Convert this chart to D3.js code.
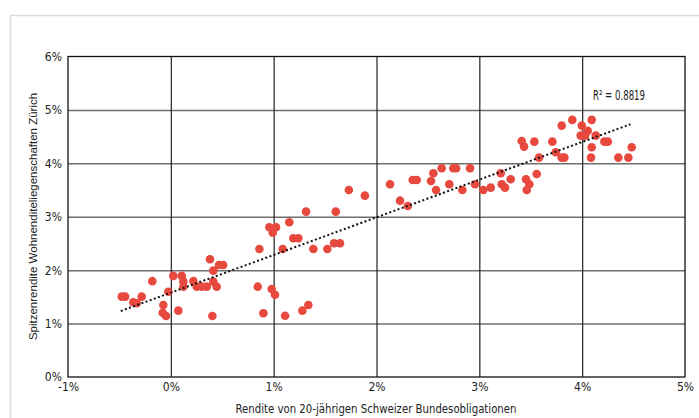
<!DOCTYPE html>
<html><head><meta charset="utf-8">
<script src="https://cdn.jsdelivr.net/npm/d3@7/dist/d3.min.js"></script>
<style>
body{margin:0;background:#fff;}
.cond{font-family:"Liberation Sans Narrow","DejaVu Sans Condensed","Roboto Condensed",sans-serif;font-stretch:condensed;}
</style></head>
<body><svg id="c" width="699" height="418"></svg>
<script>
// Rendite 20-jährige Bundesobligationen (%) und Spitzenrendite (%)
const bondYield = [0.381,0.469,0.508,0.413,-0.180,0.024,0.106,0.122,0.122,0.219,0.252,0.300,0.349,0.413,0.446,-0.024,-0.477,-0.445,-0.283,-0.365,-0.332,-0.073,-0.079,-0.047,0.073,0.404,
1.731,1.887,1.315,1.604,0.958,1.023,0.991,1.152,1.191,1.240,0.861,1.088,1.386,1.522,1.587,1.645,0.845,0.981,1.013,0.900,1.111,1.279,1.337,
2.132,2.229,2.304,2.352,2.391,2.530,2.553,2.634,2.747,2.774,2.910,2.579,2.708,2.835,2.958,3.039,3.111,3.208,3.218,3.250,3.305,3.454,3.461,3.412,3.435,
3.904,4.093,3.801,3.996,4.054,3.986,4.028,4.132,3.535,3.710,4.216,4.249,4.093,4.482,3.743,3.581,3.801,3.827,4.086,4.352,4.449,3.558,3.486];
const primeYield = [2.204,2.097,2.097,1.991,1.794,1.893,1.893,1.785,1.691,1.798,1.691,1.691,1.691,1.785,1.691,1.597,1.504,1.504,1.504,1.399,1.380,1.348,1.204,1.142,1.242,1.142,
3.502,3.395,3.096,3.096,2.803,2.803,2.702,2.897,2.597,2.597,2.397,2.397,2.397,2.397,2.504,2.504,1.691,1.648,1.541,1.193,1.148,1.242,1.348,
3.609,3.301,3.202,3.689,3.689,3.670,3.815,3.908,3.908,3.908,3.908,3.502,3.609,3.502,3.609,3.502,3.545,3.815,3.609,3.545,3.702,3.702,3.502,4.419,4.313,
4.813,4.813,4.706,4.706,4.607,4.519,4.519,4.519,4.406,4.406,4.406,4.406,4.301,4.301,4.208,4.107,4.107,4.107,4.107,4.107,4.107,3.801,3.609];
const xTicks = [-1,0,1,2,3,4,5];
const yTicks = [0,1,2,3,4,5,6];
const trendSlope = 0.7053, trendIntercept = 1.579, trendRange = [-0.487, 4.47];
const rSquared = "0.8819";

const svg = d3.select("#c");
const x = d3.scaleLinear().domain([-1,5]).range([68,685]);
const y = d3.scaleLinear().domain([0,6]).range([377,56.5]);

// outer frame
svg.append("rect").attr("x",10.5).attr("y",15.5).attr("width",720).attr("height",440)
  .attr("fill","none").attr("stroke","#dcdcdc").attr("stroke-width",1.5);

// horizontal grid
const gy = svg.append("g").attr("transform","translate(68,0)")
  .call(d3.axisLeft(y).tickValues(yTicks.slice(1,6)).tickSize(-(685-68)).tickFormat(""));
gy.select(".domain").remove();
gy.selectAll("line").attr("stroke","#6e6e6e").attr("stroke-width",1.5);
// vertical grid
const gx = svg.append("g").attr("transform","translate(0,377)")
  .call(d3.axisBottom(x).tickValues(xTicks.slice(1,6)).tickSize(-(377-56.5)).tickFormat(""));
gx.select(".domain").remove();
gx.selectAll("line").attr("stroke","#222").attr("stroke-width",1.2);

// plot border
svg.append("rect").attr("x",68).attr("y",56.5).attr("width",685-68).attr("height",377-56.5)
  .attr("fill","none").attr("stroke","#111").attr("stroke-width",1.3);

// tick labels
const yl = svg.append("g").attr("transform","translate(68,0)")
  .call(d3.axisLeft(y).tickValues(yTicks).tickSize(0).tickPadding(6).tickFormat(d=>d+"%"));
yl.select(".domain").remove();
yl.selectAll("text").attr("class","cond").attr("font-size",12).attr("fill","#222");
const xl = svg.append("g").attr("transform","translate(0,377)")
  .call(d3.axisBottom(x).tickValues(xTicks).tickSize(0).tickPadding(5).tickFormat(d=>d+"%"));
xl.select(".domain").remove();
xl.selectAll("text").attr("class","cond").attr("font-size",12).attr("fill","#222");

// points
const pts = bondYield.map((v,i)=>({x:v,y:primeYield[i]}));
svg.append("g").selectAll("circle").data(pts).join("circle")
  .attr("cx",d=>x(d.x)).attr("cy",d=>y(d.y)).attr("r",4.3).attr("fill","#e8493f");

// trend line
svg.append("line")
  .attr("x1",x(trendRange[0])).attr("y1",y(trendIntercept+trendSlope*trendRange[0]))
  .attr("x2",x(trendRange[1])).attr("y2",y(trendIntercept+trendSlope*trendRange[1]))
  .attr("stroke","#111").attr("stroke-width",2).attr("stroke-dasharray","2,2.4");

// R² label
svg.append("text").attr("class","cond").attr("x",593).attr("y",100).attr("font-size",13.5).attr("fill","#222")
  .attr("textLength",52).attr("lengthAdjust","spacingAndGlyphs")
  .text("R\u00B2 = " + rSquared);

// axis titles
svg.append("text").attr("class","cond").attr("x",376).attr("y",413).attr("text-anchor","middle")
  .attr("font-size",13).attr("fill","#222").attr("textLength",281).attr("lengthAdjust","spacingAndGlyphs")
  .text("Rendite von 20-jährigen Schweizer Bundesobligationen");
svg.append("text").attr("transform","translate(37,216.5) rotate(-90)").attr("text-anchor","middle")
  .attr("font-family","Liberation Sans, Arial, sans-serif").attr("font-size",11.5).attr("fill","#222")
  .text("Spitzenrendite  Wohnenditeliegenschaften Zürich");
</script></body></html>
